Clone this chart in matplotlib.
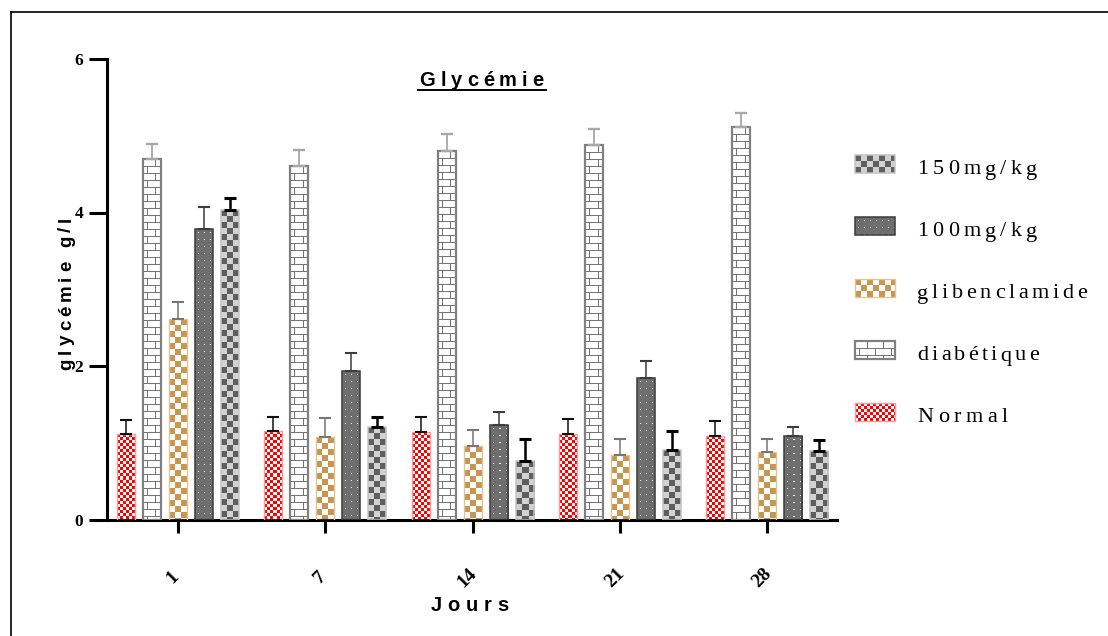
import numpy as np
import matplotlib
matplotlib.use("Agg")
import matplotlib.pyplot as plt
from matplotlib.colors import to_rgb
from matplotlib.font_manager import FontProperties
from matplotlib.patches import Rectangle
from matplotlib.transforms import offset_copy

# ---------------------------------------------------------------- data
days = ["1", "7", "14", "21", "28"]
groups = ["Normal", "diabétique", "glibenclamide", "100mg/kg", "150mg/kg"]

normal = [1.11, 1.15, 1.14, 1.12, 1.09]
normal_err = [0.18, 0.18, 0.19, 0.19, 0.19]
diabetique = [4.70, 4.61, 4.80, 4.88, 5.12]
diabetique_err = [0.19, 0.20, 0.22, 0.21, 0.17]
gliben = [2.61, 1.08, 0.96, 0.84, 0.88]
gliben_err = [0.23, 0.24, 0.21, 0.21, 0.17]
dose100 = [3.78, 1.93, 1.23, 1.84, 1.09]
dose100_err = [0.29, 0.24, 0.17, 0.23, 0.12]
dose150 = [4.03, 1.21, 0.76, 0.91, 0.89]
dose150_err = [0.16, 0.13, 0.29, 0.24, 0.14]

series = [normal, diabetique, gliben, dose100, dose150]
errors = [normal_err, diabetique_err, gliben_err, dose100_err, dose150_err]

# ---------------------------------------------------------------- figure
W, H, DPI = 1108, 636, 100
fig = plt.figure(figsize=(W / DPI, H / DPI), dpi=DPI)
fig.patch.set_facecolor("white")

ax_l, ax_r, ax_t, ax_b = 107, 837, 59, 519.5
ax = fig.add_axes([ax_l / W, (H - ax_b) / H, (ax_r - ax_l) / W, (ax_b - ax_t) / H])
ax.set_facecolor("none")

xlim = (-0.482, 4.474)
ylim = (0, 6)
px_x = (ax_r - ax_l) / (xlim[1] - xlim[0])   # pixels per group
px_y = (ax_b - ax_t) / (ylim[1] - ylim[0])   # pixels per g/l


# ---------------------------------------------------------------- textures
def checker(h, w, cell, c1, c2):
    yy, xx = np.indices((h, w))
    mask = ((yy // cell + xx // cell) % 2).astype(bool)
    img = np.empty((h, w, 3))
    img[~mask] = to_rgb(c1)
    img[mask] = to_rgb(c2)
    return img


def bricks(h, w, row=7, length=16, mortar="#747474"):
    yy, xx = np.indices((h, w))
    img = np.ones((h, w, 3))
    r = yy // row
    shift = np.where(r % 2 == 0, 4, 12)
    line = (yy % row == 0) | (((xx + shift) % length) == 0)
    img[line] = to_rgb(mortar)
    return img


def dots(h, w, bg="#6e6e6e", dot="#f2f2f2"):
    yy, xx = np.indices((h, w))
    img = np.empty((h, w, 3))
    img[:] = to_rgb(bg)
    img[(yy % 7 == 3) & (xx % 6 == 3)] = to_rgb(dot)
    return img


textures = [
    lambda h, w: checker(h, w, 3, "#ff0000", "#ffffff"),
    lambda h, w: bricks(h, w),
    lambda h, w: checker(h, w, 6, "#c8964e", "#ffffff"),
    lambda h, w: dots(h, w),
    lambda h, w: checker(h, w, 6, "#5e5e5e", "#d2d2d2"),
]
edge_colors = ["#ff9a9a", "#808080", "#e2c391", "#3a3a3a", "#c6c6c6"]
edge_widths = [1.0, 1.6, 1.0, 1.1, 1.1]
err_colors = ["#111111", "#a8a8a8", "#767676", "#3c3c3c", "#000000"]
err_widths = [1.1, 1.3, 1.1, 1.1, 1.8]

# ---------------------------------------------------------------- bars
bar_w = 18 / px_x
step = 26 / px_x
x = np.arange(len(days))

for k, (vals, errs) in enumerate(zip(series, errors)):
    pos = x + (k - 2) * step
    for p, v in zip(pos, vals):
        hp = max(1, int(round(v * px_y)))
        wp = int(round(bar_w * px_x))
        ax.imshow(textures[k](hp, wp), extent=(p - bar_w / 2, p + bar_w / 2, 0, v),
                  origin="upper", interpolation="nearest", aspect="auto", zorder=2)
    ax.bar(pos, vals, bar_w, facecolor="none", edgecolor=edge_colors[k],
           linewidth=edge_widths[k], zorder=3)
    ax.errorbar(pos, vals, yerr=[np.zeros(len(errs)), errs], fmt="none",
                ecolor=err_colors[k], elinewidth=err_widths[k],
                capsize=4.3, capthick=err_widths[k] + 0.4, zorder=4)

ax.set_xlim(*xlim)
ax.set_ylim(*ylim)

# ---------------------------------------------------------------- axes styling
for side in ("top", "right"):
    ax.spines[side].set_visible(False)
for side in ("left", "bottom"):
    ax.spines[side].set_linewidth(2.2)

ax.set_yticks([0, 2, 4, 6])
ax.set_yticklabels(["0", "2", "4", "6"])
for lab in ax.get_yticklabels():
    lab.set_fontfamily("Liberation Serif")
    lab.set_fontweight("bold")
    lab.set_fontsize(12.5)
ax.tick_params(axis="y", direction="out", length=13, width=2.2, pad=4.0)

ax.set_xticks(x)
ax.set_xticklabels([])
ax.tick_params(axis="x", direction="out", length=9.4, width=2.2)

lab_tr = offset_copy(ax.get_xaxis_transform(), fig=fig, x=-5, y=-58, units="dots")
for xi, d in zip(x, days):
    ax.text(xi, 0, d, transform=lab_tr, rotation=45, ha="center", va="center",
            fontfamily="Liberation Serif", fontweight="bold", fontsize=14,
            clip_on=False)

# ---------------------------------------------------------------- overlay (pixel coordinates)
lay = fig.add_axes([0, 0, 1, 1])
lay.set_xlim(0, W)
lay.set_ylim(H, 0)
lay.axis("off")

renderer = fig.canvas.get_renderer()


def tracked(xc, yb, s, size, family, weight, width, rotation=0):
    """Draw s centred on xc (or yc when rotated) with letters spread to a total width."""
    fp = FontProperties(family=family, weight=weight, size=size)
    ws = []
    for ch in s:
        if ch == " ":
            ws.append(0.28 * size * DPI / 72)
        else:
            w_, _, _ = renderer.get_text_width_height_descent(ch, fp, ismath=False)
            ws.append(w_)
    natural = sum(ws)
    track = (width - natural) / max(1, len(s) - 1)
    cum = 0.0
    for ch, w_ in zip(s, ws):
        if ch != " ":
            if rotation == 0:
                lay.text(xc - width / 2 + cum, yb, ch, fontproperties=fp,
                         ha="left", va="baseline")
            else:
                lay.text(yb, xc + width / 2 - cum, ch, fontproperties=fp,
                         rotation=90, rotation_mode="anchor",
                         ha="left", va="baseline")
        cum += w_ + track


# title, underlined
tracked(481.5, 86, "Glycémie", 14.5, "Liberation Sans", "bold", 124)
lay.plot([418, 546], [89.5, 89.5], color="black", lw=1.4)

# axis titles
tracked(469.5, 611, "Jours", 14.5, "Liberation Sans", "bold", 78)
tracked(293.5, 71, "glycémie g/l", 13.5, "Liberation Sans", "bold", 153, rotation=90)

# legend
legend_order = [4, 3, 2, 1, 0]
legend_widths = [120, 120, 170, 122, 91]
for row, (k, tw) in enumerate(zip(legend_order, legend_widths)):
    yc = 164 + row * 62
    img = textures[k](18, 40)
    lay.imshow(img, extent=(855, 895, yc + 9, yc - 9), origin="upper",
               interpolation="nearest", aspect="auto", zorder=2)
    lay.add_patch(Rectangle((855, yc - 9), 40, 18, facecolor="none",
                            edgecolor=edge_colors[k], lw=edge_widths[k], zorder=3))
    tracked(917 + tw / 2, yc + 10.5, groups[k], 16, "Liberation Serif", "normal", tw)

# outer frame
lay.plot([10.5, 10.5], [H, 11.5], color="black", lw=1.2, solid_capstyle="projecting")
lay.plot([10.5, W], [11.5, 11.5], color="black", lw=1.2, solid_capstyle="projecting")
lay.set_xlim(0, W)
lay.set_ylim(H, 0)

fig.savefig("out.png", dpi=DPI, facecolor="white")
